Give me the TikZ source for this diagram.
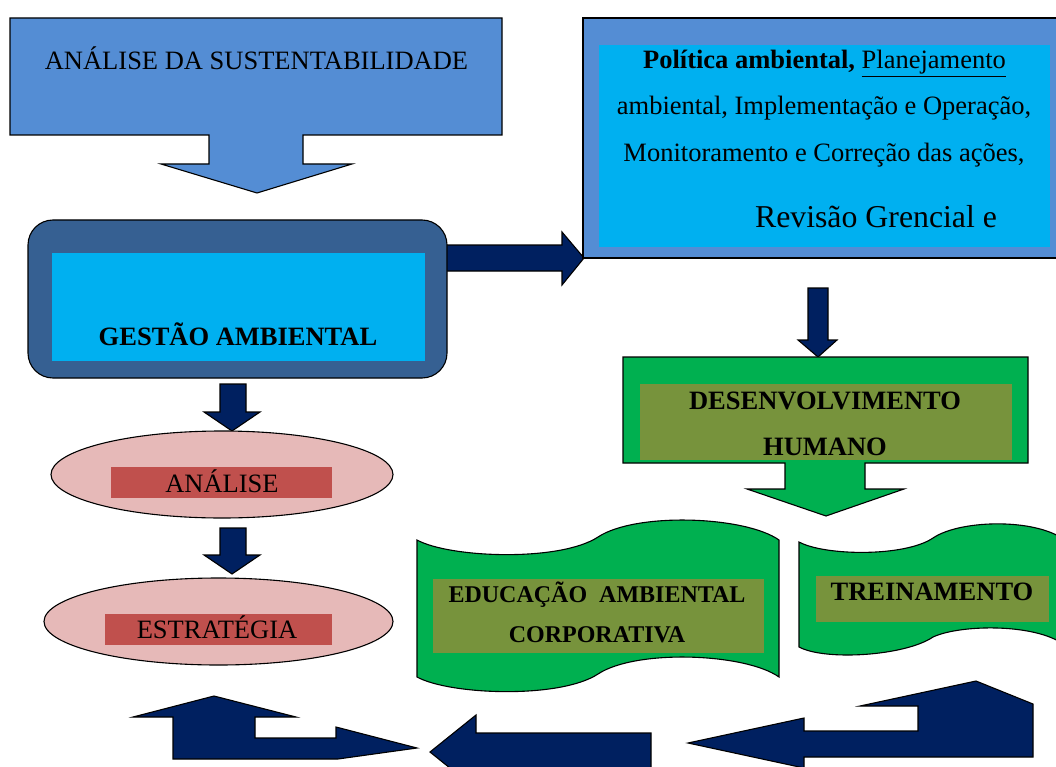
\documentclass[tikz,border=0pt]{standalone}
\usepackage{fontspec}
\setmainfont{Liberation Serif}
\usetikzlibrary{shapes.geometric}
\definecolor{lblue}{HTML}{548DD4}
\definecolor{cyanbox}{HTML}{00B0F0}
\definecolor{gestao}{HTML}{366092}
\definecolor{navy}{HTML}{002060}
\definecolor{grn}{HTML}{00B050}
\definecolor{olive}{HTML}{77933C}
\definecolor{pinkell}{HTML}{E6B9B8}
\definecolor{redbox}{HTML}{C0504D}
\begin{document}
\begin{tikzpicture}[x=1pt,y=-1pt,line width=1.1pt,
  outl/.style={draw=black},
  navyarrow/.style={draw=black,fill=navy},
  txt/.style={anchor=base,inner sep=0pt,font=\fontsize{26.5}{30}\selectfont},
  btxt/.style={anchor=base,inner sep=0pt,font=\fontsize{26.5}{30}\selectfont\bfseries},
  inbox/.style={draw=none}]
\useasboundingbox (0,0) rectangle (1056,767);
\clip (0,0) rectangle (1056,767);

% top-left callout
\draw[outl,fill=lblue] (10,18) -- (502,18) -- (502,135) -- (303,135) -- (303,164) -- (352,164)
  -- (257,193) -- (161,164) -- (209,164) -- (209,135) -- (10,135) -- cycle;
\node[txt] (sust) at (256.5,70) {ANÁLISE DA SUSTENTABILIDADE};

% arrow gestao -> right box
\draw[navyarrow] (446,245) -- (562,245) -- (562,232) -- (584,258) -- (562,285) -- (562,271) -- (446,271) -- cycle;

% gestao box
\draw[outl,fill=gestao,rounded corners=25pt] (28,220) rectangle (447,378);
\fill[cyanbox] (52,253) rectangle (425,361);
\node[btxt] (gestao) at (238,345) {GESTÃO AMBIENTAL};

% right box
\draw[outl,fill=lblue] (583,18) rectangle (1066,258);
\fill[cyanbox] (599,45) rectangle (1050,247);
\node[txt] (l1) at (824.5,69) {\textbf{Política ambiental,} \underline{Planejamento}};
\node[txt] (l2) at (824,115) {ambiental, Implementação e Operação,};
\node[txt] (l3) at (824,162) {Monitoramento e Correção das ações,};
\node[anchor=base,inner sep=0pt,font=\fontsize{31.8}{36}\selectfont] (l4) at (876,228) {Revisão Grencial e};

% down arrow to desenvolvimento
\draw[navyarrow] (808,288) -- (828,288) -- (828,340) -- (837,340) -- (818,357) -- (798,340) -- (808,340) -- cycle;

% desenvolvimento callout
\draw[outl,fill=grn] (623,357) -- (1028,357) -- (1028,463) -- (865,463) -- (865,489) -- (904,489)
  -- (826,516) -- (747,489) -- (785,489) -- (785,463) -- (623,463) -- cycle;
\fill[olive] (640,384) rectangle (1012,460);
\node[btxt] (desenv) at (825,409) {DESENVOLVIMENTO};
\node[btxt] (humano) at (825,455) {HUMANO};

% left arrows and ellipses
\draw[navyarrow] (220,384) -- (246,384) -- (246,412) -- (260,412) -- (232,431) -- (204,412) -- (220,412) -- cycle;
\node[ellipse,outl,fill=pinkell,minimum width=342pt,minimum height=87pt,inner sep=0pt] (analiseE) at (222,474.5) {};
\fill[redbox] (111,467) rectangle (332,498);
\node[txt] (analise) at (222,492) {ANÁLISE};

\draw[navyarrow] (220,528) -- (246,528) -- (246,555) -- (260,555) -- (232,574) -- (204,555) -- (220,555) -- cycle;
\node[ellipse,outl,fill=pinkell,minimum width=349pt,minimum height=87pt,inner sep=0pt] (estratE) at (218.5,621.5) {};
\fill[redbox] (105,614) rectangle (332,645);
\node[txt] (estrat) at (217,638) {ESTRATÉGIA};

% wave 1
\draw[outl,fill=grn] (417,540) .. controls (450,558) and (560,562) .. (598,537)
  .. controls (636,512) and (745,516) .. (779,540) -- (779,677)
  .. controls (745,653) and (636,649) .. (598,674)
  .. controls (560,699) and (450,695) .. (417,677) -- cycle;
\fill[olive] (433,579) rectangle (764,653);
\node[anchor=base,inner sep=0pt,font=\fontsize{24}{28}\selectfont\bfseries] (educ) at (597,602) {EDUCAÇÃO\hspace{12pt}AMBIENTAL};
\node[anchor=base,inner sep=0pt,font=\fontsize{24}{28}\selectfont\bfseries] (corp) at (597,642) {CORPORATIVA};

% wave 2
\draw[outl,fill=grn] (799,542) .. controls (825,556) and (905,557) .. (933,538)
  .. controls (961,519) and (1040,518) .. (1067,542) -- (1067,647)
  .. controls (1040,623) and (961,624) .. (933,637)
  .. controls (905,656) and (825,661) .. (799,647) -- cycle;
\fill[olive] (816,576) rectangle (1049,622);
\node[btxt] (trein) at (932,600) {TREINAMENTO};

% bottom arrows
\draw[navyarrow] (173,759) -- (173,717) -- (133,717) -- (214,696) -- (296,717) -- (255,717) -- (255,738)
  -- (336,738) -- (336,727) -- (417,748) -- (338,759) -- cycle;
\draw[navyarrow] (430,752) -- (476,715) -- (476,733) -- (651,733) -- (651,771) -- (476,771) -- (476,789) -- cycle;
\draw[navyarrow] (688,743) -- (804,718) -- (804,731) -- (918,731) -- (918,706) -- (860,706) -- (976,681)
  -- (1033,704) -- (1033,757) -- (804,757) -- (804,768) -- cycle;
\end{tikzpicture}
\end{document}
